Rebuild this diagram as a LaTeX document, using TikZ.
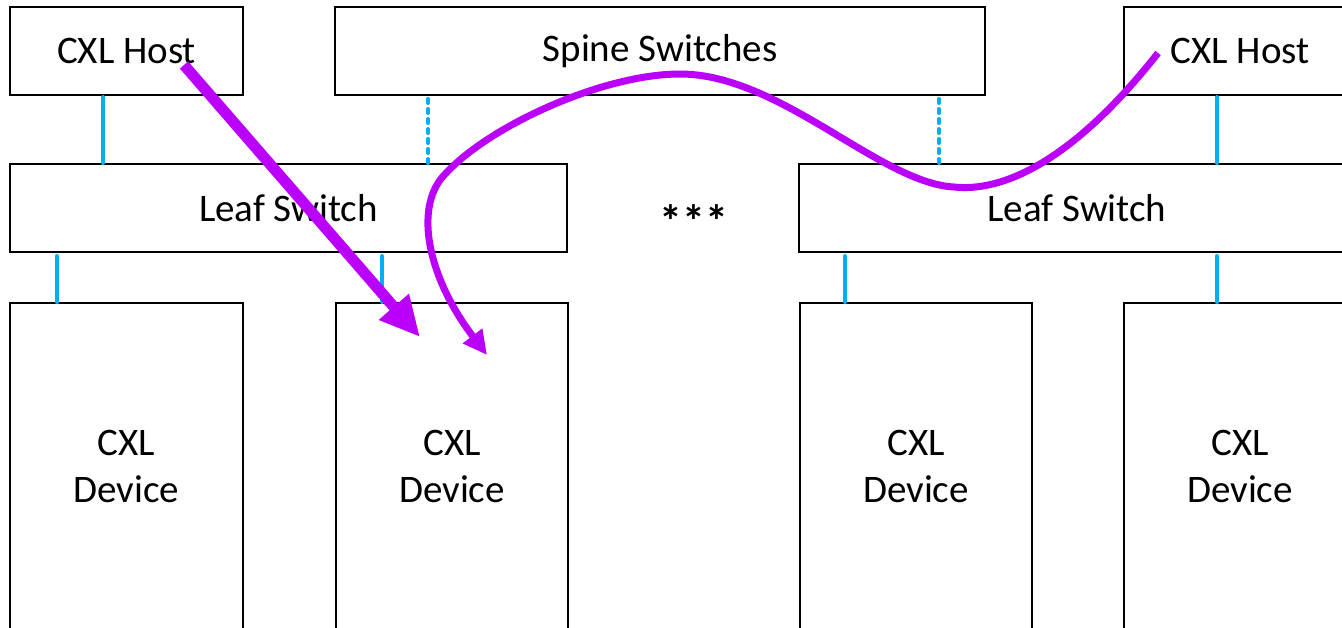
\documentclass[tikz,border=0pt]{standalone}
\usepackage{fontspec}
\setmainfont{Carlito}
\usetikzlibrary{arrows.meta}
\definecolor{flowpurple}{RGB}{186,0,250}
\definecolor{linkblue}{RGB}{0,176,240}
\tikzset{
  box/.style={draw=black, line width=2pt, anchor=north west, inner sep=0pt, outer sep=0pt,
    font=\fontsize{39}{47}\selectfont, align=center},
  link/.style={draw=linkblue, line width=4pt, line cap=round},
  dottedlink/.style={link, dash pattern=on 4pt off 6pt},
  flowbig/.style={draw=flowpurple, line width=11pt, -{Triangle[length=40pt,width=37pt]}},
  flowcurve/.style={draw=flowpurple, line width=7pt, -{Triangle[length=24pt,width=23pt]}}
}
\begin{document}
\begin{tikzpicture}[x=1pt,y=-1pt]
\useasboundingbox (0,0) rectangle (1342,627);
\clip (0,0) rectangle (1342,627);
\fill[white] (0,0) rectangle (1342,627);
% top row
\node[box, minimum width=233pt, minimum height=88pt] (hostL) at (10,7) {CXL Host};
\node[box, minimum width=650pt, minimum height=88pt] (spine) at (335,7) {Spine Switches};
\node[box, minimum width=232pt, minimum height=88pt] (hostR) at (1124,7) {CXL Host};
% leaf row
\node[box, minimum width=557pt, minimum height=88pt] (leafL) at (10,164) {Leaf Switch};
\node[box, minimum width=556pt, minimum height=88pt] (leafR) at (799,164) {Leaf Switch};
\node[font=\fontsize{46}{50}\selectfont\bfseries] (dots) at (694,221) {***};
% devices
\node[box, minimum width=233pt, minimum height=327pt] (d1) at (10,303) {CXL\\Device};
\node[box, minimum width=232pt, minimum height=327pt] (d2) at (336,303) {CXL\\Device};
\node[box, minimum width=232pt, minimum height=327pt] (d3) at (800,303) {CXL\\Device};
\node[box, minimum width=232pt, minimum height=327pt] (d4) at (1124,303) {CXL\\Device};
% links
\draw[link] ([yshift=-2pt]hostL.south -| 103,0) -- ([yshift=1pt]leafL.north -| 103,0);
\draw[dottedlink] ([yshift=-4pt]spine.south -| 428,0) -- ([yshift=1pt]leafL.north -| 428,0);
\draw[dottedlink] ([yshift=-4pt]spine.south -| 939,0) -- ([yshift=1pt]leafR.north -| 939,0);
\draw[link] ([yshift=-2pt]hostR.south -| 1217,0) -- ([yshift=1pt]leafR.north -| 1217,0);
\draw[link] ([yshift=-4pt]leafL.south -| 57,0) -- ([yshift=1pt]d1.north -| 57,0);
\draw[link] ([yshift=-4pt]leafL.south -| 382,0) -- ([yshift=1pt]d2.north -| 382,0);
\draw[link] ([yshift=-4pt]leafR.south -| 845,0) -- ([yshift=1pt]d3.north -| 845,0);
\draw[link] ([yshift=-4pt]leafR.south -| 1217,0) -- ([yshift=1pt]d4.north -| 1217,0);
% flows
\coordinate (f1s) at (184,65);
\coordinate (f1e) at (420,337);
\draw[flowbig] (f1s) -- (f1e);
\coordinate (f2s) at (1158,53);
\coordinate (f2e) at (487,355);
\draw[flowcurve] (f2s) .. controls (1070,165) and (1000,192) .. (954,187)
  .. controls (880,183) and (780,74) .. (680,74)
  .. controls (600,74) and (480,130) .. (440,180)
  .. controls (415,215) and (430,280) .. (f2e);
\end{tikzpicture}
\end{document}
